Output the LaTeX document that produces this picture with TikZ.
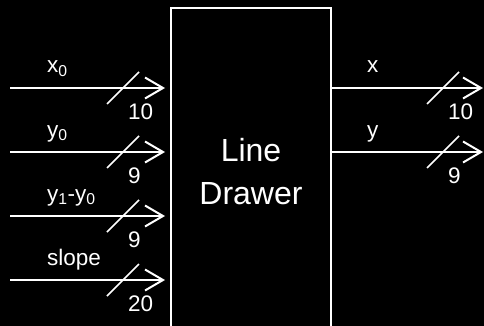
\documentclass[tikz,border=0pt]{standalone}
\usepackage{fontspec}
\setmainfont{Liberation Sans}
\usetikzlibrary{positioning, arrows.meta}
\tikzset{
  block/.style={draw=white, line width=2pt, minimum width=160pt, minimum height=328pt, anchor=north, inner sep=0pt, align=center, text=white, font=\fontsize{32}{43}\selectfont},
  bus/.style={draw=white, line width=2pt, -{Straight Barb[length=18pt, width=21pt, line width=2pt]}},
  cut/.style={draw=white, line width=1.6pt},
  sig/.style={text=white, inner sep=0pt, anchor=base west, font=\fontsize{22.5}{26}\selectfont},
  wid/.style={text=white, inner sep=0pt, font=\fontsize{22.5}{26}\selectfont}
}

\begin{document}
\begin{tikzpicture}[x=1pt, y=-1pt]
\useasboundingbox (0,0) rectangle (484,326);
\fill[black] (0,0) rectangle (484,326);
\clip (0,0) rectangle (484,326);

\node[block] (drawer) at (251,7) {Line\\Drawer};

% inputs
\coordinate (x0in) at (10,88);
\coordinate (y0in) at (10,152);
\coordinate (dyin) at (10,216);
\coordinate (slin) at (10,280);
\coordinate[right=113pt of x0in] (x0cut);
\coordinate[right=113pt of y0in] (y0cut);
\coordinate[right=113pt of dyin] (dycut);
\coordinate[right=113pt of slin] (slcut);

\draw[bus, shorten >=5pt] (x0in) -- (x0in -| drawer.west);
\draw[bus, shorten >=5pt] (y0in) -- (y0in -| drawer.west);
\draw[bus, shorten >=5pt] (dyin) -- (dyin -| drawer.west);
\draw[bus, shorten >=5pt] (slin) -- (slin -| drawer.west);

\draw[cut] ([shift={(-16,16)}]x0cut) -- ([shift={(16,-16)}]x0cut);
\draw[cut] ([shift={(-16,16)}]y0cut) -- ([shift={(16,-16)}]y0cut);
\draw[cut] ([shift={(-16,16)}]dycut) -- ([shift={(16,-16)}]dycut);
\draw[cut] ([shift={(-16,16)}]slcut) -- ([shift={(16,-16)}]slcut);

\node[sig] (x0lbl) at ([shift={(37,-15)}]x0in) {x\textsubscript{0}};
\node[sig] (y0lbl) at ([shift={(37,-15)}]y0in) {y\textsubscript{0}};
\node[sig] (dylbl) at ([shift={(37,-15)}]dyin) {y\textsubscript{1}-y\textsubscript{0}};
\node[sig] (sllbl) at ([shift={(37,-15)}]slin) {slope};

\node[wid, below right=16pt and 5pt of x0cut] (x0w) {10};
\node[wid, below right=16pt and 5pt of y0cut] (y0w) {9};
\node[wid, below right=16pt and 5pt of dycut] (dyw) {9};
\node[wid, below right=16pt and 5pt of slcut] (slw) {20};

% outputs
\coordinate (xout) at (483,88);
\coordinate (yout) at (483,152);
\coordinate[left=40pt of xout] (xcut);
\coordinate[left=40pt of yout] (ycut);

\draw[bus] (drawer.east |- xout) -- (xout);
\draw[bus] (drawer.east |- yout) -- (yout);

\draw[cut] ([shift={(-16,16)}]xcut) -- ([shift={(16,-16)}]xcut);
\draw[cut] ([shift={(-16,16)}]ycut) -- ([shift={(16,-16)}]ycut);

\node[sig] (xlbl) at ([shift={(-116,-15)}]xout) {x};
\node[sig] (ylbl) at ([shift={(-116,-15)}]yout) {y};

\node[wid, below right=16pt and 5pt of xcut] (xw) {10};
\node[wid, below right=16pt and 5pt of ycut] (yw) {9};
\end{tikzpicture}
\end{document}
